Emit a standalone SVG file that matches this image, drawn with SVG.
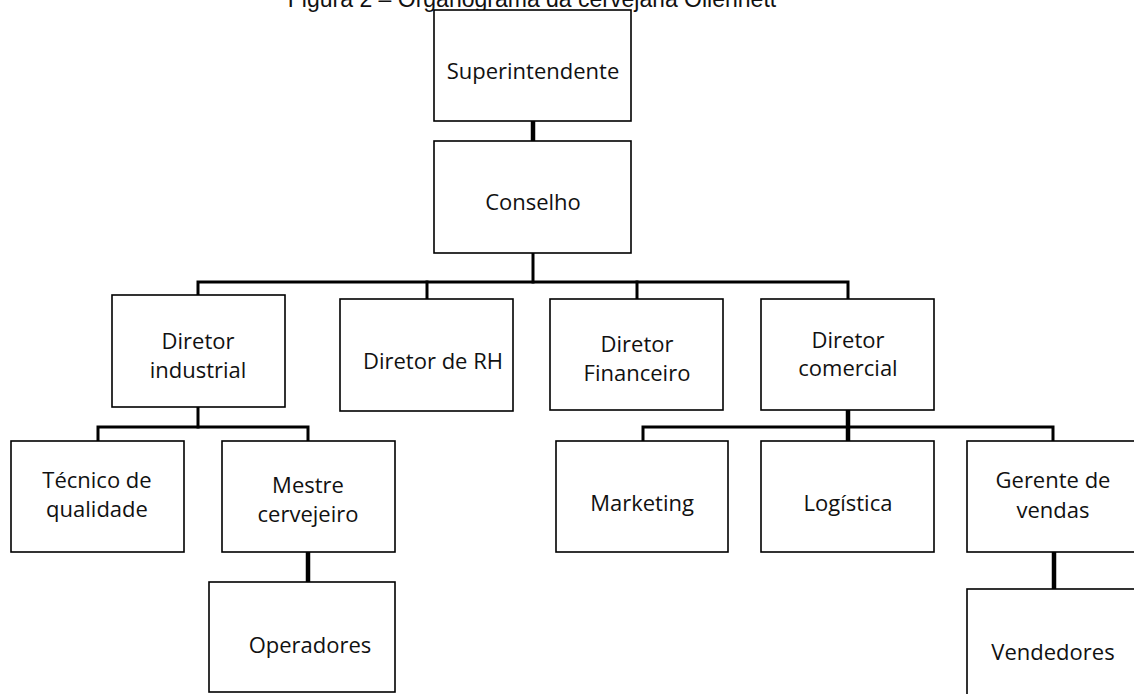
<svg xmlns="http://www.w3.org/2000/svg" width="1134" height="694" viewBox="0 0 1134 694">
  <style>
    .box { fill: #ffffff; stroke: #000000; stroke-width: 1.6; }
    .lbl { font-family: "Open Sans", "Noto Sans", sans-serif; font-size: 22px; fill: #111111; text-anchor: middle; }
    .bus { fill: none; stroke: #000000; stroke-width: 3; stroke-linecap: square; }
    .stem { fill: none; stroke: #000000; stroke-width: 4.5; }
    .title { font-family: "Liberation Sans", Arial, sans-serif; font-size: 23px; fill: #111111; text-anchor: middle; }
  </style>
  <rect width="1134" height="694" fill="#ffffff"/>

  <!-- caption line above the chart (top clipped by the page edge) -->
  <text class="title" x="532" y="7">Figura 2 – Organograma da cervejaria Ollennett</text>

  <!-- connectors -->
  <g id="connectors">
    <line class="stem" x1="533" y1="121" x2="533" y2="141"/>
    <line class="bus" x1="533" y1="253" x2="533" y2="282"/>
    <polyline class="bus" points="198,294 198,282 848,282 848,298"/>
    <line class="bus" x1="427" y1="282" x2="427" y2="298"/>
    <line class="bus" x1="637" y1="282" x2="637" y2="298"/>
    <!-- industrial branch -->
    <line class="bus" x1="198" y1="407" x2="198" y2="427"/>
    <polyline class="bus" points="98,441 98,427 308,427 308,441"/>
    <line class="stem" x1="308" y1="552" x2="308" y2="582"/>
    <!-- commercial branch -->
    <line class="stem" x1="848" y1="410" x2="848" y2="441"/>
    <polyline class="bus" points="643,441 643,427 1053,427 1053,441"/>
    <line class="stem" x1="1054" y1="552" x2="1054" y2="589"/>
  </g>

  <g id="superintendente">
    <rect class="box" x="434" y="10" width="197" height="111"/>
    <text class="lbl" x="533" y="79">Superintendente</text>
  </g>
  <g id="conselho">
    <rect class="box" x="434" y="141" width="197" height="112"/>
    <text class="lbl" x="533" y="210">Conselho</text>
  </g>

  <g id="diretor-industrial">
    <rect class="box" x="112" y="295" width="173" height="112"/>
    <text class="lbl" x="198" y="349">Diretor</text>
    <text class="lbl" x="198" y="378">industrial</text>
  </g>
  <g id="diretor-rh">
    <rect class="box" x="340" y="299" width="173" height="112"/>
    <text class="lbl" x="433" y="369">Diretor de RH</text>
  </g>
  <g id="diretor-financeiro">
    <rect class="box" x="550" y="299" width="173" height="111"/>
    <text class="lbl" x="637" y="352">Diretor</text>
    <text class="lbl" x="637" y="381">Financeiro</text>
  </g>
  <g id="diretor-comercial">
    <rect class="box" x="761" y="299" width="173" height="111"/>
    <text class="lbl" x="848" y="348">Diretor</text>
    <text class="lbl" x="848" y="376">comercial</text>
  </g>

  <g id="tecnico-qualidade">
    <rect class="box" x="11" y="441" width="173" height="111"/>
    <text class="lbl" x="97" y="488">Técnico de</text>
    <text class="lbl" x="97" y="517">qualidade</text>
  </g>
  <g id="mestre-cervejeiro">
    <rect class="box" x="222" y="441" width="173" height="111"/>
    <text class="lbl" x="308" y="493">Mestre</text>
    <text class="lbl" x="308" y="522">cervejeiro</text>
  </g>
  <g id="operadores">
    <rect class="box" x="209" y="582" width="186" height="110"/>
    <text class="lbl" x="310" y="653">Operadores</text>
  </g>

  <g id="marketing">
    <rect class="box" x="556" y="441" width="172" height="111"/>
    <text class="lbl" x="642" y="511">Marketing</text>
  </g>
  <g id="logistica">
    <rect class="box" x="761" y="441" width="173" height="111"/>
    <text class="lbl" x="848" y="511">Logística</text>
  </g>
  <g id="gerente-vendas">
    <rect class="box" x="967" y="441" width="173" height="111"/>
    <text class="lbl" x="1053" y="488">Gerente de</text>
    <text class="lbl" x="1053" y="518">vendas</text>
  </g>
  <g id="vendedores">
    <rect class="box" x="967" y="589" width="173" height="112"/>
    <text class="lbl" x="1053" y="660">Vendedores</text>
  </g>
</svg>
